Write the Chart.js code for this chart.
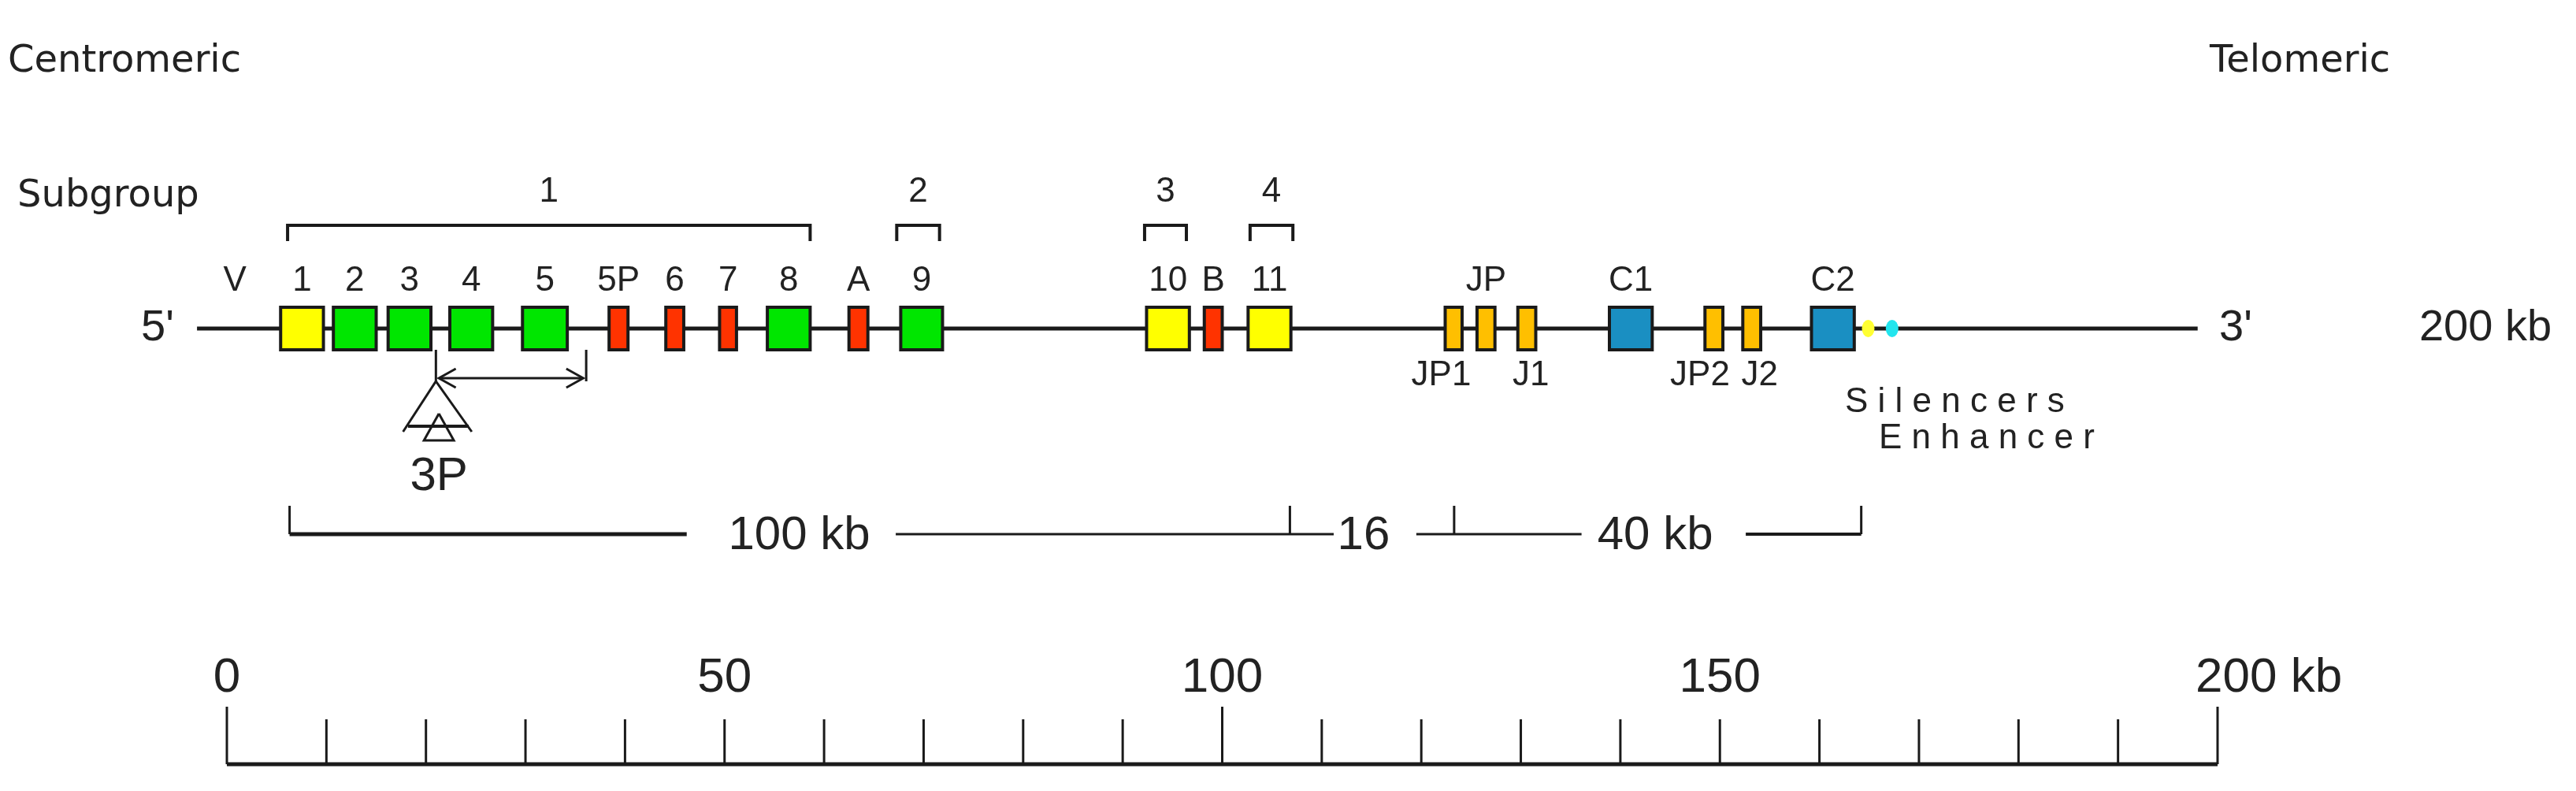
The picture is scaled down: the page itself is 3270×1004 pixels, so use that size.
<!DOCTYPE html>
<html><head><meta charset="utf-8">
<script src="https://cdn.jsdelivr.net/npm/chart.js@4"></script>
<style>html,body{margin:0;padding:0;background:#fff}canvas{display:block}</style>
</head><body><canvas id="c" width="3270" height="1004"></canvas>
<script>
// gene segments (kb)
const geneNames = ["1","2","3","4","5","5P","6","7","8","A","9","10","B","11","JP1","JP","J1","C1","JP2","J2","C2"];
const geneStart = [5.4,10.7,16.2,22.4,29.7,38.4,44.1,49.5,54.3,62.5,67.7,92.4,98.2,102.6,122.4,125.6,129.7,138.9,148.5,152.3,159.2];
const geneEnd   = [9.7,15.0,20.5,26.7,34.2,40.3,45.9,51.2,58.6,64.4,71.9,96.7,100.0,106.9,124.1,127.4,131.5,143.2,150.3,154.1,163.5];
const geneType  = ["Vfunc","V","V","V","V","P","P","P","V","P","V","Vfunc","P","Vfunc","J","J","J","C","J","J","C"];
const topLabels = ["1","2","3","4","5","5P","6","7","8","A","9","10","B","11","","JP","","C1","","","C2"];
const bottomLabels = ["JP1","J1","JP2","J2"];
const bottomLabelPos = [122.0,131.0,148.0,154.0];
const subgroupNames = ["1","2","3","4"];
const subgroupStart = [6.1,67.3,92.2,102.8];
const subgroupEnd = [58.6,71.6,96.4,107.1];
const distLabels = ["100 kb","16","40 kb"];
const distLabelPos = [57.5,114.2,143.5];
const distTicks = [6.3,106.8,123.3,164.2];
const scaleTicks = [0,10,20,30,40,50,60,70,80,90,100,110,120,130,140,150,160,170,180,190,200];
const scaleLabels = ["0","50","100","150","200 kb"];
const scaleLabelPos = [0,50,100,150,200];
const chromStart = -3, chromEnd = 198;
const silencerPos = 164.9, enhancerPos = 167.3;

const colors = {Vfunc:"#ffff00",V:"#00e600",P:"#ff3300",J:"#ffbf00",C:"#1a8fc2"};
const BLACK = "#1a1a1a";
function seg(pts, w){return {data:pts.map(p=>({x:p[0],y:p[1]})),showLine:true,clip:false,borderColor:BLACK,borderWidth:w||4,pointRadius:0,fill:false};}

const ds = [];
const LY = 417;
ds.push(seg([[chromStart,LY],[chromEnd,LY]],5));
subgroupStart.forEach((s,i)=>ds.push(seg([[s,306],[s,286],[subgroupEnd[i],286],[subgroupEnd[i],306]],4)));
ds.push(seg([[distTicks[0],678],[46.2,678]],5));
ds.push(seg([[67.2,678],[111.2,678]],3));
ds.push(seg([[119.5,678],[136.1,678]],3));
ds.push(seg([[152.6,678],[distTicks[3],678]],4));
distTicks.forEach(t=>ds.push(seg([[t,678],[t,642]],3)));
// 3P structure
ds.push(seg([[21.0,444],[21.0,484]],3));
ds.push(seg([[36.1,444],[36.1,484]],3));
ds.push(seg([[21.3,480],[35.8,480]],3));
ds.push(seg([[23.0,468],[21.3,480],[23.0,492]],3));
ds.push(seg([[34.1,468],[35.8,480],[34.1,492]],3));
ds.push(seg([[17.7,548],[21.0,484],[24.6,548]],3));
ds.push(seg([[18.2,541],[24.3,541]],4));
ds.push(seg([[21.3,525],[19.8,559],[22.8,559],[21.3,525]],3));
// scale bar
ds.push(seg([[0,970],[200,970]],5));
scaleTicks.forEach(t=>ds.push(seg([[t,970],[t,(t%100===0)?897:913]],3)));

const drawPlugin = {
  id:'genes',
  afterDatasetsDraw(chart){
    const ctx = chart.ctx, xs = chart.scales.x, ys = chart.scales.y;
    geneStart.forEach((s,i)=>{
      const x1 = xs.getPixelForValue(s), x2 = xs.getPixelForValue(geneEnd[i]);
      const y1 = ys.getPixelForValue(390), y2 = ys.getPixelForValue(444);
      ctx.fillStyle = colors[geneType[i]];
      ctx.fillRect(x1,y1,x2-x1,y2-y1);
      ctx.lineWidth = 4; ctx.strokeStyle = BLACK;
      ctx.strokeRect(x1,y1,x2-x1,y2-y1);
    });
    [[silencerPos,"#ffff33"],[enhancerPos,"#22e5ee"]].forEach(([p,c])=>{
      ctx.beginPath(); ctx.fillStyle=c;
      ctx.ellipse(xs.getPixelForValue(p),ys.getPixelForValue(LY),8,11,0,0,Math.PI*2); ctx.fill();
    });
    const F = "'Liberation Sans',sans-serif";
    ctx.fillStyle = "#222"; ctx.textBaseline = "middle"; ctx.textAlign = "center";
    ctx.font = "44px "+F;
    topLabels.forEach((l,i)=>{ if(l) ctx.fillText(l, xs.getPixelForValue((geneStart[i]+geneEnd[i])/2), 357); });
    ctx.fillText("V", xs.getPixelForValue(0.8), 357);
    bottomLabels.forEach((l,i)=>ctx.fillText(l, xs.getPixelForValue(bottomLabelPos[i]), 477));
    subgroupNames.forEach((l,i)=>ctx.fillText(l, xs.getPixelForValue((subgroupStart[i]+subgroupEnd[i])/2), 244));
    ctx.textAlign="left";
    ctx.fillText("S i l e n c e r s", 2342, 511);
    ctx.fillText("E n h a n c e r", 2385, 557);
    ctx.textAlign="center";
    ctx.font = "60px "+F;
    ctx.fillText("3P", xs.getPixelForValue(21.3), 605);
    distLabels.forEach((l,i)=>ctx.fillText(l, xs.getPixelForValue(distLabelPos[i]), 680));
    ctx.font = "62px "+F;
    scaleLabels.forEach((l,i)=>{
      const last = i===scaleLabels.length-1;
      ctx.textAlign = last ? "left":"center";
      ctx.fillText(l, xs.getPixelForValue(scaleLabelPos[i]) - (last?28:0), 861);
    });
    ctx.font = "56px "+F;
    ctx.textAlign="center";
    ctx.fillText("5'", 200, 417);
    ctx.fillText("3'", 2838, 417);
    ctx.fillText("200 kb", 3155, 417);
    ctx.font = "48px 'DejaVu Sans',sans-serif";
    ctx.textAlign="left";
    ctx.fillText("Centromeric", 10, 79);
    ctx.fillText("Telomeric", 2805, 79);
    ctx.fillText("Subgroup", 22, 250);
  }
};

new Chart(document.getElementById('c'),{
  type:'scatter',
  data:{datasets:ds},
  options:{
    responsive:false, devicePixelRatio:1, animation:false,
    layout:{padding:{left:288,right:455,top:0,bottom:0}},
    plugins:{legend:{display:false},tooltip:{enabled:false}},
    scales:{
      x:{type:'linear',min:0,max:200,display:false},
      y:{type:'linear',min:0,max:1004,reverse:true,display:false}
    }
  },
  plugins:[drawPlugin]
});
</script></body></html>
